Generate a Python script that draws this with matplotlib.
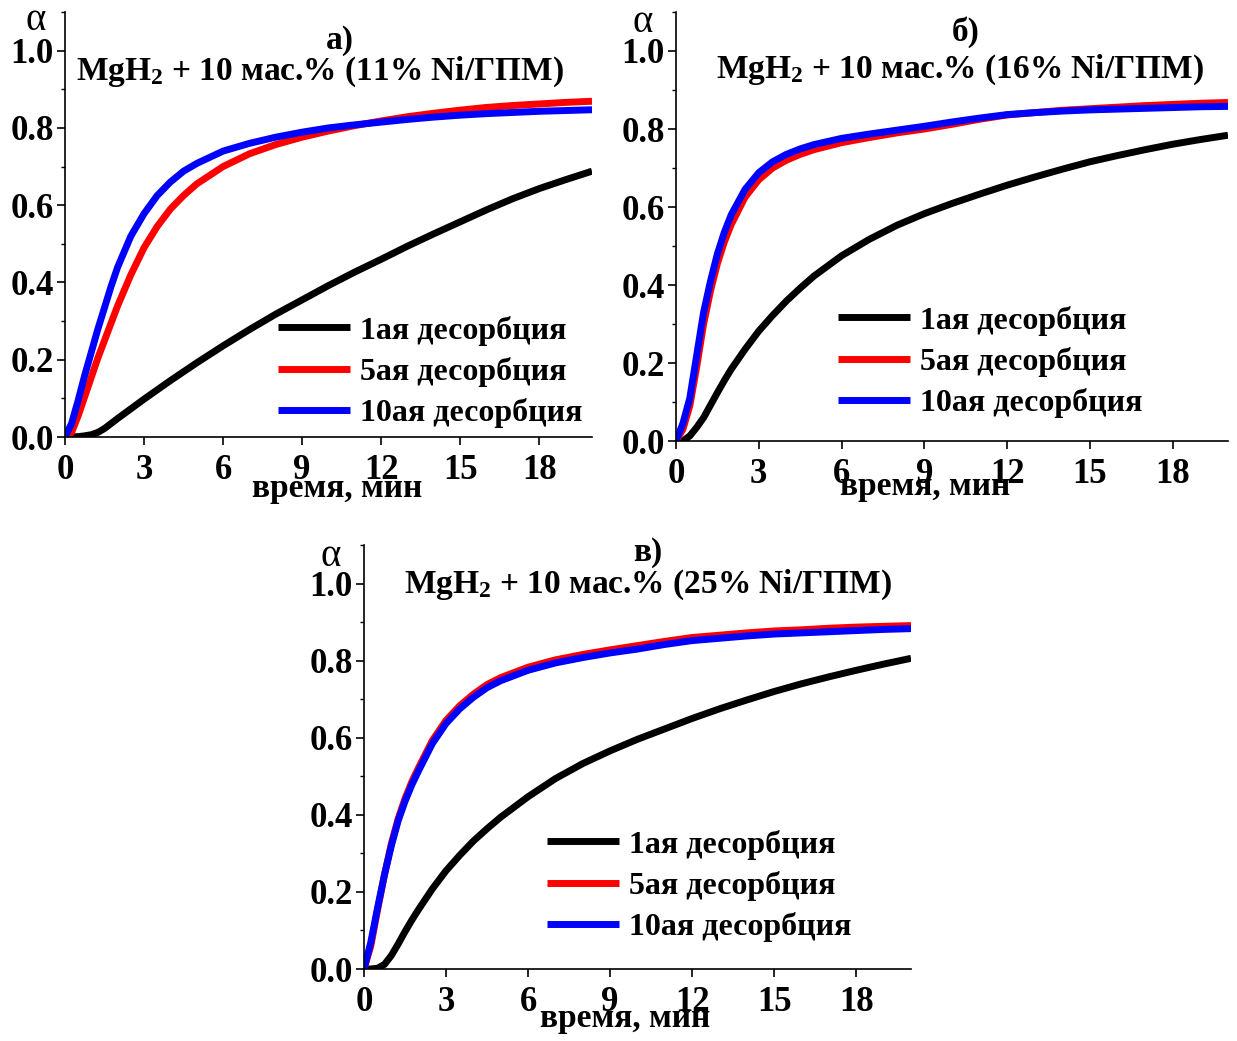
import matplotlib
matplotlib.use("Agg")
import matplotlib.pyplot as plt
from matplotlib.ticker import MultipleLocator, FormatStrFormatter

# time grid, min
t = [0, 0.25, 0.5, 0.75, 1.0, 1.25, 1.5, 1.75, 2.0, 2.5, 3.0, 3.5, 4.0, 4.5, 5,
     6, 7, 8, 9, 10, 11, 12, 13, 14, 15, 16, 17, 18, 19, 20]

# а) 11% Ni/ГПМ
a_1 = [0, 0, 0.001, 0.003, 0.006, 0.012, 0.022, 0.035, 0.048, 0.073, 0.098, 0.122, 0.146, 0.169, 0.192,
       0.236, 0.278, 0.318, 0.355, 0.392, 0.427, 0.460, 0.494, 0.526, 0.557, 0.588, 0.617, 0.643, 0.666, 0.688]
a_5 = [0, 0.012, 0.055, 0.105, 0.155, 0.205, 0.250, 0.295, 0.340, 0.420, 0.490, 0.545, 0.590, 0.625, 0.655,
       0.700, 0.733, 0.757, 0.776, 0.792, 0.806, 0.818, 0.829, 0.838, 0.846, 0.853, 0.858, 0.862, 0.866, 0.869]
a_10 = [0, 0.035, 0.095, 0.160, 0.220, 0.280, 0.335, 0.390, 0.440, 0.520, 0.578, 0.625, 0.660, 0.688, 0.708,
        0.740, 0.760, 0.776, 0.789, 0.800, 0.808, 0.815, 0.822, 0.828, 0.833, 0.837, 0.840, 0.843, 0.845, 0.847]

# б) 16% Ni/ГПМ
b_1 = [0, 0, 0.013, 0.035, 0.060, 0.092, 0.124, 0.155, 0.184, 0.235, 0.282, 0.322, 0.359, 0.392, 0.423,
       0.475, 0.517, 0.553, 0.583, 0.609, 0.633, 0.656, 0.677, 0.697, 0.716, 0.732, 0.747, 0.761, 0.773, 0.784]
b_5 = [0, 0.030, 0.090, 0.190, 0.300, 0.385, 0.455, 0.510, 0.555, 0.625, 0.670, 0.700, 0.720, 0.735, 0.747,
       0.765, 0.778, 0.790, 0.800, 0.812, 0.825, 0.836, 0.842, 0.848, 0.852, 0.856, 0.860, 0.863, 0.866, 0.868]
b_10 = [0, 0.045, 0.110, 0.220, 0.330, 0.410, 0.480, 0.535, 0.580, 0.645, 0.688, 0.716, 0.735, 0.749, 0.760,
        0.776, 0.787, 0.797, 0.807, 0.818, 0.828, 0.837, 0.842, 0.846, 0.849, 0.851, 0.853, 0.855, 0.857, 0.858]

# в) 25% Ni/ГПМ
c_1 = [0, 0, 0.002, 0.012, 0.035, 0.065, 0.097, 0.127, 0.155, 0.208, 0.255, 0.295, 0.332, 0.364, 0.394,
       0.447, 0.494, 0.533, 0.566, 0.596, 0.623, 0.650, 0.675, 0.698, 0.720, 0.740, 0.758, 0.775, 0.791, 0.806]
c_5 = [0, 0.060, 0.155, 0.245, 0.325, 0.390, 0.442, 0.486, 0.523, 0.593, 0.645, 0.683, 0.713, 0.738, 0.756,
       0.783, 0.802, 0.816, 0.828, 0.839, 0.850, 0.860, 0.866, 0.872, 0.877, 0.880, 0.884, 0.887, 0.889, 0.891]
c_10 = [0, 0.070, 0.160, 0.245, 0.320, 0.385, 0.435, 0.478, 0.515, 0.585, 0.637, 0.675, 0.705, 0.730, 0.748,
        0.775, 0.794, 0.808, 0.820, 0.830, 0.842, 0.852, 0.858, 0.864, 0.869, 0.872, 0.875, 0.878, 0.881, 0.883]

labels = ["1ая десорбция", "5ая десорбция", "10ая десорбция"]
colors = ["black", "red", "blue"]
titles = ["MgH$_\\mathrm{2}$ + 10 мас.% (11% Ni/ГПМ)",
          "MgH$_\\mathrm{2}$ + 10 мас.% (16% Ni/ГПМ)",
          "MgH$_\\mathrm{2}$ + 10 мас.% (25% Ni/ГПМ)"]
letters = ["а)", "б)", "в)"]

W, H = 1237, 1041
plt.rcParams.update({
    "font.family": ["Liberation Serif", "DejaVu Serif"],
    "font.weight": "bold",
    "mathtext.fontset": "custom",
    "mathtext.rm": "Liberation Serif:bold",
    "mathtext.bf": "Liberation Serif:bold",
    "mathtext.it": "Liberation Serif:bold:italic",
    "axes.linewidth": 1.2,
})

fig = plt.figure(figsize=(W / 100, H / 100), dpi=100)


def px(x, y):
    return x / W, 1 - y / H


# panel boxes in pixels: left, top, right, bottom
boxes = [(65, 12, 592, 437), (676, 12, 1228, 441), (364, 545, 911, 969)]
# alpha, letter, title, xlabel centers (pixels)
alpha_xy = [(36, 20), (643, 22), (331, 556)]
letter_xy = [(340, 40), (966, 32), (648, 553)]
title_xy = [(320, 72), (960, 70), (648, 585)]
xlab_xy = [(337, 488), (925, 487), (625, 1019)]
legend_at = [(278, 372), (838, 362), (547, 886)]

series = [(a_1, a_5, a_10), (b_1, b_5, b_10), (c_1, c_5, c_10)]

for i, (l, tp, r, b) in enumerate(boxes):
    ax = fig.add_axes([l / W, 1 - b / H, (r - l) / W, (b - tp) / H])
    for ys, c, lab in zip(series[i], colors, labels):
        ax.plot(t, ys, color=c, lw=5, label=lab, solid_capstyle="butt", solid_joinstyle="round")
    ax.set_xlim(0, 20)
    ax.set_ylim(0, 1.1)
    ax.spines["top"].set_visible(False)
    ax.spines["right"].set_visible(False)
    ax.xaxis.set_major_locator(MultipleLocator(3))
    ax.yaxis.set_major_locator(MultipleLocator(0.2))
    ax.yaxis.set_minor_locator(MultipleLocator(0.1))
    ax.yaxis.set_major_formatter(FormatStrFormatter("%.1f"))
    ax.tick_params(which="major", direction="out", length=6, width=1.2, labelsize=25)
    ax.tick_params(axis="x", which="major", pad=6)
    ax.tick_params(axis="y", which="major", pad=2)
    ax.tick_params(which="minor", direction="out", length=3, width=1.0)
    for lbl in ax.get_xticklabels() + ax.get_yticklabels():
        lbl.set_fontweight("bold")

    lx, ly = legend_at[i]
    ax.legend(loc="center left", bbox_to_anchor=((lx - l) / (r - l), (b - ly) / (b - tp)),
              frameon=False, fontsize=23, handlelength=2.25, handletextpad=0.31,
              labelspacing=0.36, borderpad=0, borderaxespad=0)

    fig.text(*px(*alpha_xy[i]), "α", fontsize=28, fontweight="normal", ha="center", va="center")
    fig.text(*px(*letter_xy[i]), letters[i], fontsize=24, ha="center", va="center")
    fig.text(*px(*title_xy[i]), titles[i], fontsize=24, ha="center", va="center")
    fig.text(*px(*xlab_xy[i]), "время, мин", fontsize=24, ha="center", va="center")

fig.savefig("out.png", dpi=100)
